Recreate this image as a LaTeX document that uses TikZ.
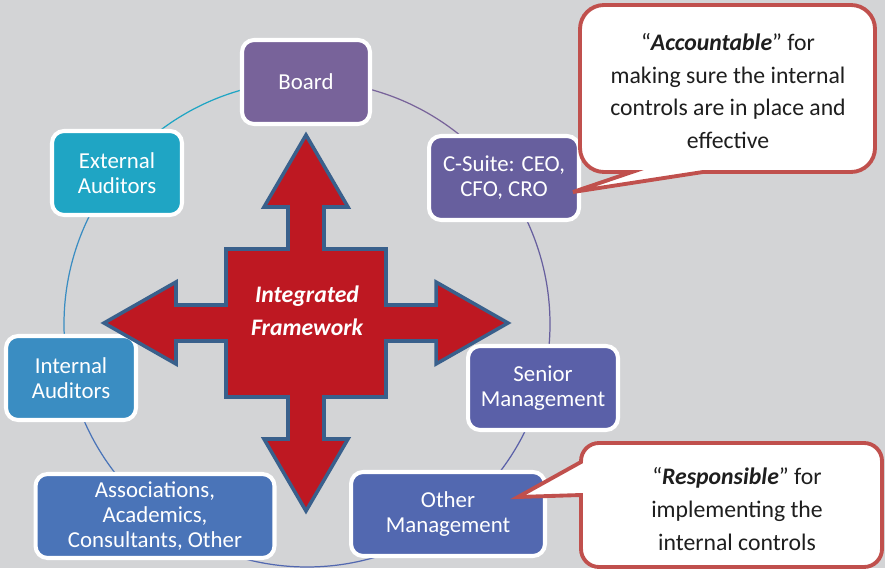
\documentclass[tikz,border=0pt]{standalone}
\usepackage{fontspec}
\setmainfont{Carlito}
\definecolor{xBack}{RGB}{211,212,214}
\definecolor{xBoard}{RGB}{120,99,154}
\definecolor{xSuite}{RGB}{103,95,158}
\definecolor{xSenior}{RGB}{90,96,168}
\definecolor{xOther}{RGB}{82,104,176}
\definecolor{xAssoc}{RGB}{74,116,184}
\definecolor{xInternal}{RGB}{58,141,194}
\definecolor{xExternal}{RGB}{31,165,196}
\definecolor{xCross}{RGB}{190,24,34}
\definecolor{xEdge}{RGB}{57,96,140}
\definecolor{xCallout}{RGB}{192,80,77}
\definecolor{xInk}{RGB}{30,30,30}
\newcommand{\boxfont}{\fontsize{13}{14.2}\selectfont}
\newcommand{\notefont}{\fontsize{13.5}{18.7}\selectfont}
\tikzset{
  unit/.style={draw=white, line width=2.3pt, rounded corners=0.24cm, align=center, text=white,
               font=\boxfont, inner sep=1pt, minimum height=1.68cm},
  ring/.style={line width=0.7pt},
  cross/.style={fill=xCross, draw=xEdge, line width=2pt},
  callout/.style={fill=white, draw=xCallout, line width=2.2pt},
  note/.style={align=center, font=\notefont, text=xInk},
}

\begin{document}
\begin{tikzpicture}[x=0.02cm, y=0.02cm]
    \fill[xBack] (0,0) rectangle (885,568);
    \useasboundingbox (0,0) rectangle (885,568);
    \coordinate (o) at (307,244);
    % ring behind the boxes
    \draw[ring, xBoard]    (o) ++(90:243)    arc[start angle=90,    end angle=36.5,   radius=243];
    \draw[ring, xSuite]    (o) ++(36.5:243)  arc[start angle=36.5,  end angle=-15,    radius=243];
    \draw[ring, xSenior]   (o) ++(-15:243)   arc[start angle=-15,   end angle=-53,    radius=243];
    \draw[ring, xOther]    (o) ++(-53:243)   arc[start angle=-53,   end angle=-128.5, radius=243];
    \draw[ring, xAssoc]    (o) ++(-128.5:243) arc[start angle=-128.5, end angle=-167,  radius=243];
    \draw[ring, xInternal] (o) ++(-167:243)  arc[start angle=-167,  end angle=-218.5, radius=243];
    \draw[ring, xExternal] (o) ++(141.5:243) arc[start angle=141.5, end angle=90,     radius=243];
    \node[unit, fill=xBoard,    minimum width=2.56cm] (b) at (306,486) {Board};
    \node[unit, fill=xSuite,    minimum width=3cm]    (c) at (504,390) {C-Suite: CEO,\\CFO, CRO};
    \node[unit, fill=xSenior,   minimum width=3cm]    (s) at (543,180) {Senior\\Management};
    \node[unit, fill=xOther,    minimum width=3.88cm] (m) at (448,54)  {Other\\Management};
    \node[unit, fill=xAssoc,    minimum width=4.78cm] (a) at (155,52)  {Associations,\\Academics,\\Consultants, Other};
    \node[unit, fill=xInternal, minimum width=2.6cm]  (i) at (71,190)  {Internal\\Auditors};
    \node[unit, fill=xExternal, minimum width=2.6cm]  (e) at (117,395) {External\\Auditors};
    % four-way arrow
    \begin{scope}[shift={(306,245)}]
      \draw[cross] (0,188) -- (42,116) -- (18,116) -- (18,74) -- (80,74) -- (80,18) -- (130,18)
        -- (130,41) -- (202,0) -- (130,-41) -- (130,-18) -- (80,-18) -- (80,-74) -- (18,-74)
        -- (18,-116) -- (42,-116) -- (0,-188) -- (-42,-116) -- (-18,-116) -- (-18,-74) -- (-80,-74)
        -- (-80,-18) -- (-130,-18) -- (-130,-41) -- (-202,0) -- (-130,41) -- (-130,18) -- (-80,18)
        -- (-80,74) -- (-18,74) -- (-18,116) -- (-42,116) -- cycle;
    \end{scope}
    \node[note, text=white, font=\notefont\bfseries\itshape] (f) at (307,257) {Integrated\\Framework};
    % callouts
    \draw[callout, rounded corners=0.48cm] (728,563) -- (580,563) -- (580,396) [sharp corners]
      -- (632,396) -- (573,376) -- (703,396) [rounded corners=0.48cm] -- (875,396) -- (875,563) -- cycle;
    \node[note] (ac) at (728,477) {“\textbf{\textit{Accountable}}” for\\making sure the internal\\controls are in place and\\effective};
    \draw[callout, rounded corners=0.36cm] (730,125) -- (581,125) [sharp corners] -- (581,106)
      -- (518,71) -- (581,73) [rounded corners=0.36cm] -- (581,1) -- (882,1) -- (882,125) -- cycle;
    \node[note] (rs) at (737,59) {“\textbf{\textit{Responsible}}” for\\implementing the\\internal controls};
  \end{tikzpicture}
\end{document}
